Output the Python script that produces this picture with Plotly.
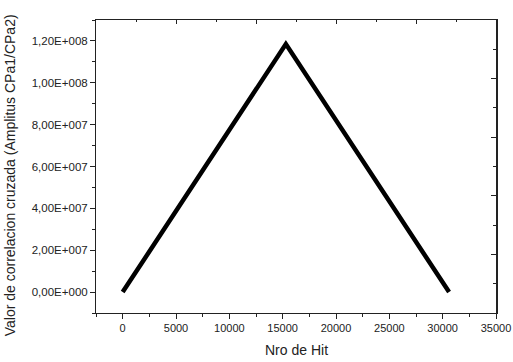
import plotly.graph_objects as go

# Cross-correlation amplitude versus hit number
hits = [0, 15300, 30600]
correlation = [0.0, 1.185e8, 0.0]

y_ticks = [0, 2e7, 4e7, 6e7, 8e7, 1e8, 1.2e8]
y_labels = ["0,00E+000", "2,00E+007", "4,00E+007", "6,00E+007",
            "8,00E+007", "1,00E+008", "1,20E+008"]
x_ticks = [0, 5000, 10000, 15000, 20000, 25000, 30000, 35000]
x_labels = [str(v) for v in x_ticks]

X_RANGE = [-2500, 35000]
Y_RANGE = [-1e7, 1.3e8]

FONT = "Liberation Sans, Arial, sans-serif"
AXIS_COLOR = "#222222"
TEXT_COLOR = "#222222"

fig = go.Figure()
fig.add_trace(go.Scatter(
    x=hits, y=correlation, mode="lines",
    line=dict(color="black", width=4.5),
    showlegend=False, hoverinfo="skip",
))
# hidden trace so the top/right frame axes get drawn
fig.add_trace(go.Scatter(
    x=hits, y=correlation, xaxis="x2", yaxis="y2", mode="lines",
    line=dict(width=0), opacity=0, showlegend=False, hoverinfo="skip",
))

fig.update_layout(
    width=513, height=362,
    margin=dict(l=96, r=17, t=20, b=49, autoexpand=False),
    paper_bgcolor="white", plot_bgcolor="white",
    font=dict(family=FONT, size=11, color=TEXT_COLOR),
    xaxis=dict(
        range=X_RANGE, tickvals=x_ticks, ticktext=x_labels,
        ticks="outside", ticklen=5, tickwidth=1, tickcolor=AXIS_COLOR,
        minor=dict(ticks="outside", ticklen=3, tick0=0, dtick=2500,
                   tickcolor=AXIS_COLOR, showgrid=False),
        showline=True, linecolor=AXIS_COLOR, linewidth=1,
        showgrid=False, zeroline=False, automargin=False,
        tickfont=dict(size=11),
    ),
    yaxis=dict(
        range=Y_RANGE, tickvals=y_ticks, ticktext=y_labels,
        ticks="outside", ticklen=5, tickwidth=1, tickcolor=AXIS_COLOR,
        minor=dict(ticks="outside", ticklen=3, tick0=0, dtick=1e7,
                   tickcolor=AXIS_COLOR, showgrid=False),
        showline=True, linecolor=AXIS_COLOR, linewidth=1,
        showgrid=False, zeroline=False, automargin=False,
        tickfont=dict(size=11.5),
    ),
    # frame: top and right axes with inward ticks
    xaxis2=dict(
        overlaying="x", side="top", anchor="y", range=X_RANGE,
        tick0=-2500, dtick=7500, ticks="inside", ticklen=4,
        tickcolor=AXIS_COLOR,
        minor=dict(ticks="inside", ticklen=2, tick0=-2500, dtick=3750,
                   tickcolor=AXIS_COLOR, showgrid=False),
        showticklabels=False, showline=True, linecolor=AXIS_COLOR,
        linewidth=1, showgrid=False, zeroline=False, automargin=False,
    ),
    yaxis2=dict(
        overlaying="y", side="right", anchor="x", range=Y_RANGE,
        tick0=-1e7, dtick=2.8e7, ticks="inside", ticklen=5,
        tickcolor=AXIS_COLOR,
        minor=dict(ticks="inside", ticklen=3, tick0=-1e7, dtick=1.4e7,
                   tickcolor=AXIS_COLOR, showgrid=False),
        showticklabels=False, showline=True, linecolor=AXIS_COLOR,
        linewidth=2, showgrid=False, zeroline=False, automargin=False,
    ),
    annotations=[
        dict(text="Valor de correlacion cruzada (Amplitus CPa1/CPa2)",
             xref="paper", yref="paper", x=-0.215, y=0.47,
             xanchor="center", yanchor="middle", textangle=-90,
             showarrow=False, font=dict(size=14, color=TEXT_COLOR)),
        dict(text="Nro de Hit",
             xref="paper", yref="paper", x=0.5, y=-0.127,
             xanchor="center", yanchor="middle",
             showarrow=False, font=dict(size=14, color=TEXT_COLOR)),
    ],
)

fig.write_html("out.html")
